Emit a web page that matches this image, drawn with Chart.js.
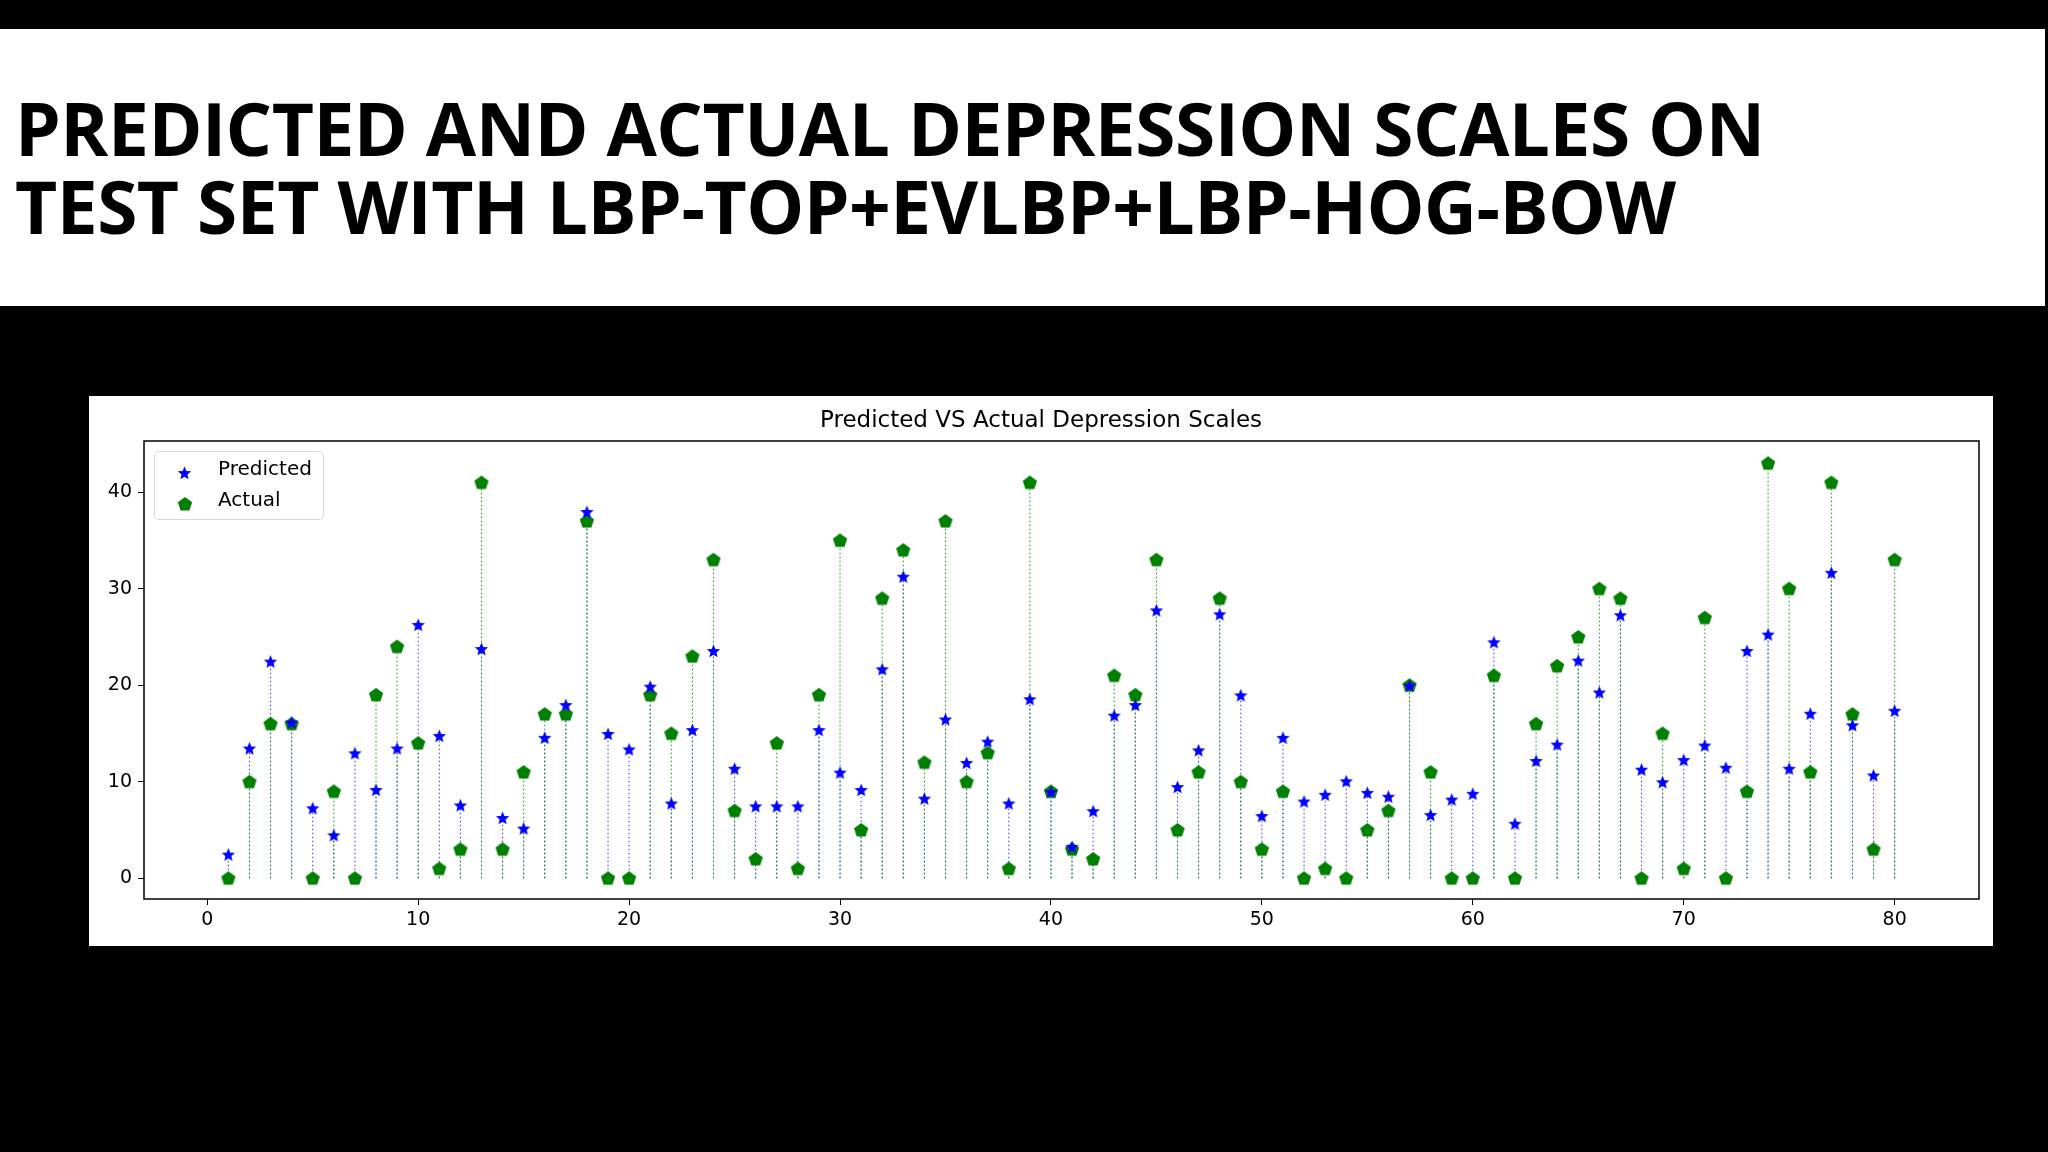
<!DOCTYPE html>
<html>
<head>
<meta charset="utf-8">
<script src="https://cdn.jsdelivr.net/npm/chart.js@4/dist/chart.umd.min.js"></script>
<style>
  html, body { margin: 0; padding: 0; background: #000; width: 2048px; height: 1152px; overflow: hidden; }
  #banner { position: absolute; left: 0; top: 29px; width: 2045px; height: 277px; background: #fff; }
  #banner h1 { margin: 0; position: absolute; left: 15px; top: 60px; font-family: "Open Sans", sans-serif; font-weight: 700;
    font-size: 73px; line-height: 78px; letter-spacing: -0.5px; color: #000; }
  #panel { position: absolute; left: 89px; top: 396px; width: 1904px; height: 550px; background: #fff; }
  #chart-title { position: absolute; left: 0; width: 100%; top: 10px; text-align: center; font-family: "DejaVu Sans", sans-serif; font-size: 23px; color: #000; }
  #legend { position: absolute; left: 65px; top: 55px; width: 168px; height: 67px; border: 1.5px solid #d8d8d8; border-radius: 5px;
    font-family: "DejaVu Sans", sans-serif; font-size: 20px; color: #000; background: rgba(255,255,255,0.8); }
  #legend div { position: absolute; left: 63px; }
</style>
</head>
<body>
<div id="banner"><h1>PREDICTED AND ACTUAL DEPRESSION SCALES ON<br>TEST SET WITH LBP-TOP+EVLBP+LBP-HOG-BOW</h1></div>
<div id="panel">
  <canvas id="c" width="1904" height="550"></canvas>
  <div id="chart-title">Predicted VS Actual Depression Scales</div>
  <div id="legend"><div style="top:4px">Predicted</div><div style="top:35px">Actual</div></div>
</div>
<script>
const SAMPLE_IDS = Array.from({ length: 80 }, (_, i) => i + 1);
const PREDICTED = [
  2.5, 13.5, 22.5, 16.2, 7.3, 4.5, 13, 9.2, 13.5, 26.3,
  14.8, 7.6, 23.8, 6.3, 5.2, 14.6, 18, 38, 15, 13.4,
  19.9, 7.8, 15.4, 23.6, 11.4, 7.5, 7.5, 7.5, 15.4, 11,
  9.2, 21.7, 31.3, 8.3, 16.5, 12, 14.2, 7.8, 18.6, 9,
  3.3, 7, 16.9, 18, 27.8, 9.5, 13.3, 27.4, 19, 6.5,
  14.6, 8, 8.7, 10.1, 8.9, 8.5, 20, 6.6, 8.2, 8.8,
  24.5, 5.7, 12.2, 13.9, 22.6, 19.3, 27.3, 11.3, 10, 12.3,
  13.8, 11.5, 23.6, 25.3, 11.4, 17.1, 31.7, 15.9, 10.7, 17.4
];
const ACTUAL = [
  0, 10, 16, 16, 0, 9, 0, 19, 24, 14,
  1, 3, 41, 3, 11, 17, 17, 37, 0, 0,
  19, 15, 23, 33, 7, 2, 14, 1, 19, 35,
  5, 29, 34, 12, 37, 10, 13, 1, 41, 9,
  3, 2, 21, 19, 33, 5, 11, 29, 10, 3,
  9, 0, 1, 0, 5, 7, 20, 11, 0, 0,
  21, 0, 16, 22, 25, 30, 29, 0, 15, 1,
  27, 0, 9, 43, 30, 11, 41, 17, 3, 33
];
const X_TICKS = [0, 10, 20, 30, 40, 50, 60, 70, 80];
const Y_TICKS = [0, 10, 20, 30, 40];

function makeMarker(kind, color, size) {
  const cv = document.createElement('canvas');
  cv.width = size; cv.height = size;
  const g = cv.getContext('2d');
  const c = size / 2;
  g.beginPath();
  const pts = kind === 'star' ? 10 : 5;
  for (let i = 0; i < pts; i++) {
    const a = -Math.PI / 2 + i * 2 * Math.PI / pts;
    const r = kind === 'star' ? (i % 2 === 0 ? c - 0.5 : (c - 0.5) * 0.45) : c - 0.5;
    const px = c + r * Math.cos(a), py = c + r * Math.sin(a) + (kind === 'star' ? 1 : 0.5);
    if (i === 0) g.moveTo(px, py); else g.lineTo(px, py);
  }
  g.closePath();
  g.fillStyle = color;
  g.fill();
  return cv;
}
const starImg = makeMarker('star', '#0000ff', 15);
const pentImg = makeMarker('pent', '#008000', 16);

// dotted stems and plot frame
const stemsPlugin = {
  id: 'stems',
  beforeDatasetsDraw(chart) {
    const { ctx, scales: { x, y } } = chart;
    ctx.save();
    ctx.lineWidth = 1;
    ctx.setLineDash([1.5, 2.5]);
    const zero = y.getPixelForValue(0);
    ctx.strokeStyle = '#3030ff';
    SAMPLE_IDS.forEach((id, i) => {
      const px = x.getPixelForValue(id);
      ctx.beginPath(); ctx.moveTo(px, zero); ctx.lineTo(px, y.getPixelForValue(PREDICTED[i])); ctx.stroke();
    });
    ctx.strokeStyle = '#1a8a1a';
    SAMPLE_IDS.forEach((id, i) => {
      const px = x.getPixelForValue(id);
      ctx.beginPath(); ctx.moveTo(px, zero); ctx.lineTo(px, y.getPixelForValue(ACTUAL[i])); ctx.stroke();
    });
    ctx.restore();
  },
  afterDraw(chart) {
    const { ctx, chartArea: a } = chart;
    ctx.save();
    ctx.strokeStyle = '#000';
    ctx.lineWidth = 1.5;
    ctx.strokeRect(a.left, a.top, a.right - a.left, a.bottom - a.top);
    ctx.restore();
  }
};

const tickFont = { family: 'DejaVu Sans', size: 19 };
new Chart(document.getElementById('c'), {
  type: 'scatter',
  data: {
    datasets: [
      { label: 'Predicted', data: SAMPLE_IDS.map((id, i) => ({ x: id, y: PREDICTED[i] })), pointStyle: starImg, pointRadius: 7 },
      { label: 'Actual', data: SAMPLE_IDS.map((id, i) => ({ x: id, y: ACTUAL[i] })), pointStyle: pentImg, pointRadius: 8 },
    ],
  },
  options: {
    responsive: false,
    animation: false,
    layout: { padding: { top: 45, right: 14, left: 0, bottom: 0 } },
    plugins: { legend: { display: false }, tooltip: { enabled: false } },
    scales: {
      x: {
        type: 'linear', min: -3, max: 84,
        afterBuildTicks: (s) => { s.ticks = X_TICKS.map((v) => ({ value: v })); },
        afterFit: (s) => { s.height = 47; },
        ticks: { color: '#000', font: tickFont, padding: 4, maxRotation: 0 },
        grid: { drawOnChartArea: false, drawTicks: true, tickLength: 6, color: '#000' },
        border: { display: false },
      },
      y: {
        min: -2.15, max: 45.3,
        afterBuildTicks: (s) => { s.ticks = Y_TICKS.map((v) => ({ value: v })); },
        afterFit: (s) => { s.width = 55; },
        ticks: { color: '#000', font: tickFont, padding: 6 },
        grid: { drawOnChartArea: false, drawTicks: true, tickLength: 6, color: '#000' },
        border: { display: false },
      },
    },
  },
  plugins: [stemsPlugin],
});

// legend markers
const leg = document.getElementById('legend');
[[starImg, 20], [pentImg, 51]].forEach(([img, top]) => {
  const c = document.createElement('canvas');
  c.width = img.width; c.height = img.height;
  c.getContext('2d').drawImage(img, 0, 0);
  c.style.cssText = `position:absolute;left:22px;top:${top - 7}px`;
  leg.appendChild(c);
});
</script>
</body>
</html>
